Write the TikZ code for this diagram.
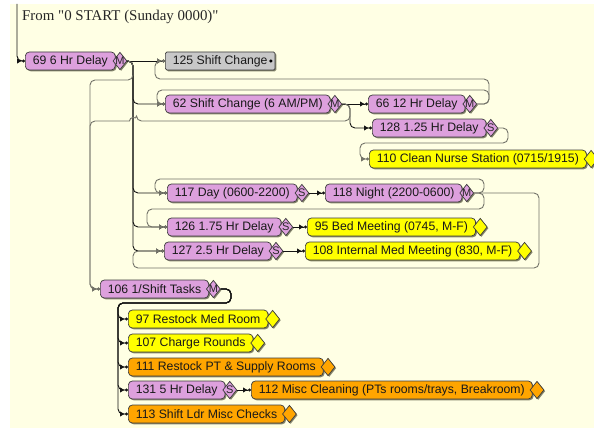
\documentclass[tikz,border=0pt]{standalone}
\usepackage{fontspec}
\newfontfamily\startfont{Liberation Serif}
\newfontfamily\uifont{Liberation Sans}
\usetikzlibrary{arrows.meta,shapes.geometric,shadows}

\definecolor{paper}{RGB}{255,255,228}
\definecolor{delayfill}{RGB}{221,160,221}
\definecolor{taskfill}{RGB}{255,255,0}
\definecolor{chorefill}{RGB}{255,165,0}
\definecolor{endfill}{RGB}{200,200,200}
\definecolor{rim}{RGB}{60,60,60}
\definecolor{wirecol}{RGB}{20,20,20}
\definecolor{backcol}{RGB}{115,115,105}
\definecolor{shade}{RGB}{120,120,95}

\tikzset{
  blk/.style={draw=rim, line width=0.7pt, rounded corners=4pt,
    minimum height=18pt, inner xsep=7.5pt, inner ysep=0pt, anchor=west,
    font=\uifont\fontsize{12.25}{14}\selectfont, text=black!90,
    drop shadow={shadow xshift=1.3pt, shadow yshift=-1.3pt, fill=shade, opacity=0.9}},
  delay/.style={blk, fill=delayfill},
  task/.style={blk, fill=taskfill},
  chore/.style={blk, fill=chorefill},
  endbox/.style={blk, fill=endfill, rounded corners=1.5pt},
  gate/.style={diamond, draw=rim, line width=0.7pt, minimum width=14pt,
    minimum height=17.5pt, inner sep=0pt, anchor=west, xshift=-3pt,
    drop shadow={shadow xshift=1.2pt, shadow yshift=-1.2pt, fill=shade, opacity=0.9}},
  gatelbl/.style={font=\uifont\fontsize{11}{11}\selectfont, inner sep=0pt, text=black!85},
  wire/.style={draw=wirecol, line width=0.9pt, rounded corners=5pt,
    -{Latex[length=5pt,width=5.5pt]Circle[length=3pt]}},
  backwire/.style={wire, draw=backcol},
}

% diamond decision marker after a block, with or without a letter
\newcommand\markgate[3]{%
  \node[gate, fill=#2] (d#1) at (n#1.east) {};
  \node[gatelbl] (m#1) at (d#1) {#3};}
\newcommand\plaingate[2]{%
  \node[gate, fill=#2] (d#1) at (n#1.east) {};}
% trailing room under the marker
\newcommand\tailgap{\hspace{7pt}}

\begin{document}
\begin{tikzpicture}[x=1pt, y=-1pt]
\useasboundingbox (0,0) rectangle (594,428);
\fill[white] (0,0) rectangle (594,428);
\fill[paper] (10,4) rectangle (594,428);

\node[anchor=base west, inner sep=0pt, font=\startfont\fontsize{14.9}{16}\selectfont, text=black!85]
  (start) at (22,21) {From "0 START (Sunday 0000)"};
\coordinate (top) at (17,4);

% blocks
\node[delay] (n69) at (25,61) {69 6 Hr Delay\tailgap};
\node[endbox] (n125) at (165,61) {125 Shift Change\hspace{14pt}};
\node[delay] (n62) at (165,104) {62 Shift Change (6 AM/PM)\tailgap};
\node[delay] (n66) at (368,104) {66 12 Hr Delay\tailgap};
\node[delay] (n128) at (372,128) {128 1.25 Hr Delay\tailgap};
\node[task] (n110) at (369,159) {110 Clean Nurse Station (0715/1915)\tailgap};
\node[delay] (n117) at (167,193) {117 Day (0600-2200)\tailgap};
\node[delay] (n118) at (325,193) {118 Night (2200-0600)\tailgap};
\node[delay] (n126) at (167,227) {126 1.75 Hr Delay\tailgap};
\node[task] (n95) at (307,227) {95 Bed Meeting (0745, M-F)\tailgap};
\node[delay] (n127) at (164,251) {127 2.5 Hr Delay\tailgap};
\node[task] (n108) at (305,251) {108 Internal Med Meeting (830, M-F)\tailgap};
\node[delay] (n106) at (100,289) {106 1/Shift Tasks\tailgap};
\node[task] (n97) at (128,319) {97 Restock Med Room\tailgap};
\node[task] (n107) at (128,343) {107 Charge Rounds\tailgap};
\node[chore] (n111) at (128,367) {111 Restock PT \& Supply Rooms\tailgap};
\node[delay] (n131) at (128,390) {131 5 Hr Delay\tailgap};
\node[chore] (n112) at (251,390) {112 Misc Cleaning (PTs rooms/trays, Breakroom)\tailgap};
\node[chore] (n113) at (128,414) {113 Shift Ldr Misc Checks\tailgap};

\node[circle, fill=black, inner sep=0pt, minimum size=3.4pt] (x125) at ([xshift=-4.5pt]n125.east) {};

% decision markers
\markgate{69}{delayfill}{M}
\markgate{62}{delayfill}{M}
\markgate{66}{delayfill}{M}
\markgate{128}{delayfill}{S}
\plaingate{110}{taskfill}
\markgate{117}{delayfill}{S}
\markgate{118}{delayfill}{M}
\markgate{126}{delayfill}{S}
\plaingate{95}{taskfill}
\markgate{127}{delayfill}{S}
\plaingate{108}{taskfill}
\markgate{106}{delayfill}{M}
\plaingate{97}{taskfill}
\plaingate{107}{taskfill}
\plaingate{111}{chorefill}
\markgate{131}{delayfill}{S}
\plaingate{112}{chorefill}
\plaingate{113}{chorefill}

% forward connections
\draw[wire] (top) |- (n69.west);
\draw[wire] (d69.east) -- (n125.west);
\draw[wire] (d69.east) -- (133,61) |- (n62.west);
\draw[wire] (d69.east) -- (133,61) |- (n117.west);
\draw[wire] (d69.east) -- (133,61) |- (n126.west);
\draw[wire] (d69.east) -- (133,61) |- (n127.west);
\draw[backwire] (d69.east) -- (133,61) -- (133,80) -- (90,80) |- (n106.west);
\draw[wire] (d62.east) -- (n66.west);
\draw[wire] (d62.east) -- (350,104) |- (n128.west);
\draw[backwire] (d62.east) -- (350,104) -- (350,121) -- (136.5,121)
  [sharp corners] arc[start angle=0, end angle=180, radius=3.5pt]
  [rounded corners=5pt] -- (90,121) |- (n106.west);
\draw[wire] (d117.east) -- (n118.west);
\draw[wire] (d126.east) -- (n95.west);
\draw[wire] (d127.east) -- (n108.west);
\foreach \t in {97,107,111,131,113}
  \draw[wire] (d106.east) -- (231,289) -- (231,303) -- (118,303) |- (n\t.west);
\draw[wire] (d131.east) -- (n112.west);

% return connections
\draw[backwire] (d66.east) -- (489,104) -- (489,79) -- (155,79) |- (n125.west);
\draw[backwire] (d66.east) -- (489,104) -- (489,90) -- (157,90) |- (n62.west);
\draw[backwire] (d128.east) -- (508,128) -- (508,143) -- (360,143) |- (n110.west);
\draw[backwire] (d118.east) -- (484,193) -- (484,179) -- (155,179) |- (n117.west);
\draw[backwire] (d118.east) -- (484,193) -- (484,209) -- (147,209) |- (n126.west);
\draw[backwire] (d118.east) -- (539,193) -- (539,268) -- (133,268) |- (n127.west);
\end{tikzpicture}
\end{document}
